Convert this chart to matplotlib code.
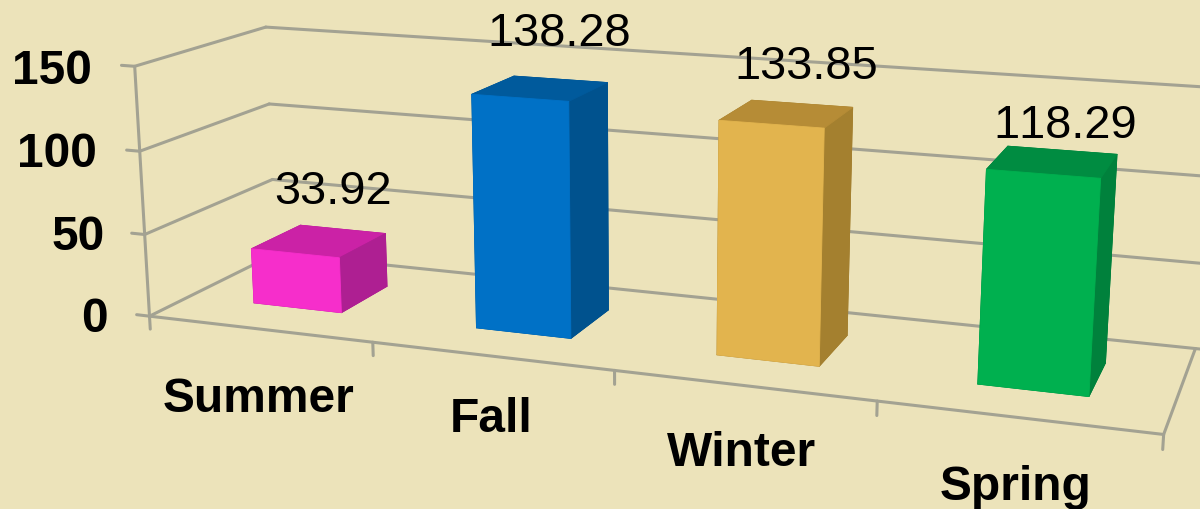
import matplotlib
matplotlib.use("Agg")
import matplotlib.pyplot as plt

categories = ["Summer", "Fall", "Winter", "Spring"]
values = [33.92, 138.28, 133.85, 118.29]
z_ticks = [0, 50, 100, 150]

front_colors = ["#F62ECB", "#0071C6", "#E2B44E", "#00B04F"]
top_colors = ["#CB22A6", "#005A9C", "#B68C36", "#008C41"]
side_colors = ["#AE1F92", "#00528E", "#A4802F", "#00813C"]

bg = "#ECE3BA"
grid = "#A3A292"
W, H = 1200, 509

plt.rcParams["font.family"] = ["Liberation Sans", "DejaVu Sans"]
plt.rcParams["text.kerning_factor"] = 6

fig = plt.figure(figsize=(12, 5.09), dpi=100, facecolor=bg)
# camera fitted to the picture, axes is square and runs off the figure
ax = fig.add_axes([113.22/W, -244.66/H, 1066.03/W, 1066.03/H], projection="3d", computed_zorder=False)
ax.set_xlim(0, 4, view_margin=0)
ax.set_ylim(0, 1, view_margin=0)
ax.set_zlim(0, 150, view_margin=0)
ax.view_init(elev=14.088, azim=-70.326, roll=-0.109)
ax.set_proj_type("persp", focal_length=0.36848)
ax.set_box_aspect((1, 0.2523, 0.25462))
ax.set_axis_off()
ax.patch.set_visible(False)

line = dict(color=grid, lw=2.2, clip_on=False, zorder=1, solid_capstyle="round")

# walls
for z in z_ticks:
    ax.plot([-0.06, 0, 0], [0, 0, 1], [z, z, z], **line)
    ax.plot([0, 4.2], [1, 1], [z, z], **line)
ax.plot([0, 0], [0, 0], [-8, 150], **line)
ax.plot([0, 4, 4], [0, 0, 1], [0, 0, 0], **line)
for i in range(1, 5):
    ax.plot([i, i], [0, 0], [0, -8], **line)

# bars, bar3d face order is bottom, top, front, back, left, right
gap = 0.299
for i, v in enumerate(values):
    faces = [side_colors[i], top_colors[i], front_colors[i], side_colors[i], side_colors[i], side_colors[i]]
    ax.bar3d(i + gap, 0.304, 0, 1 - 2*gap, 0.402, v, color=faces, shade=False,
             edgecolor=faces, linewidth=0.6, zorder=2 + i)

# value labels
label_xy = [(333, 192), (559, 34), (806, 67), (1065, 126)]
for v, (x, y) in zip(values, label_xy):
    fig.text(x/W, 1 - y/H, f"{v:.2f}", fontsize=33.8, color="black", ha="center", va="center")

# axis labels
tick_xy = [(108, 319), (105, 237), (97, 154), (92, 71)]
for t, (x, y) in zip(z_ticks, tick_xy):
    fig.text(x/W, 1 - y/H, str(t), fontsize=34.5, fontweight="bold", color="black", ha="right", va="center")

cat_xy = [(259, 400), (491, 420), (742, 454), (1016, 487)]
for c, (x, y) in zip(categories, cat_xy):
    fig.text(x/W, 1 - y/H, c, fontsize=34.5, fontweight="bold", color="black", ha="center", va="center")

fig.savefig("out.png", dpi=100, facecolor=bg)
